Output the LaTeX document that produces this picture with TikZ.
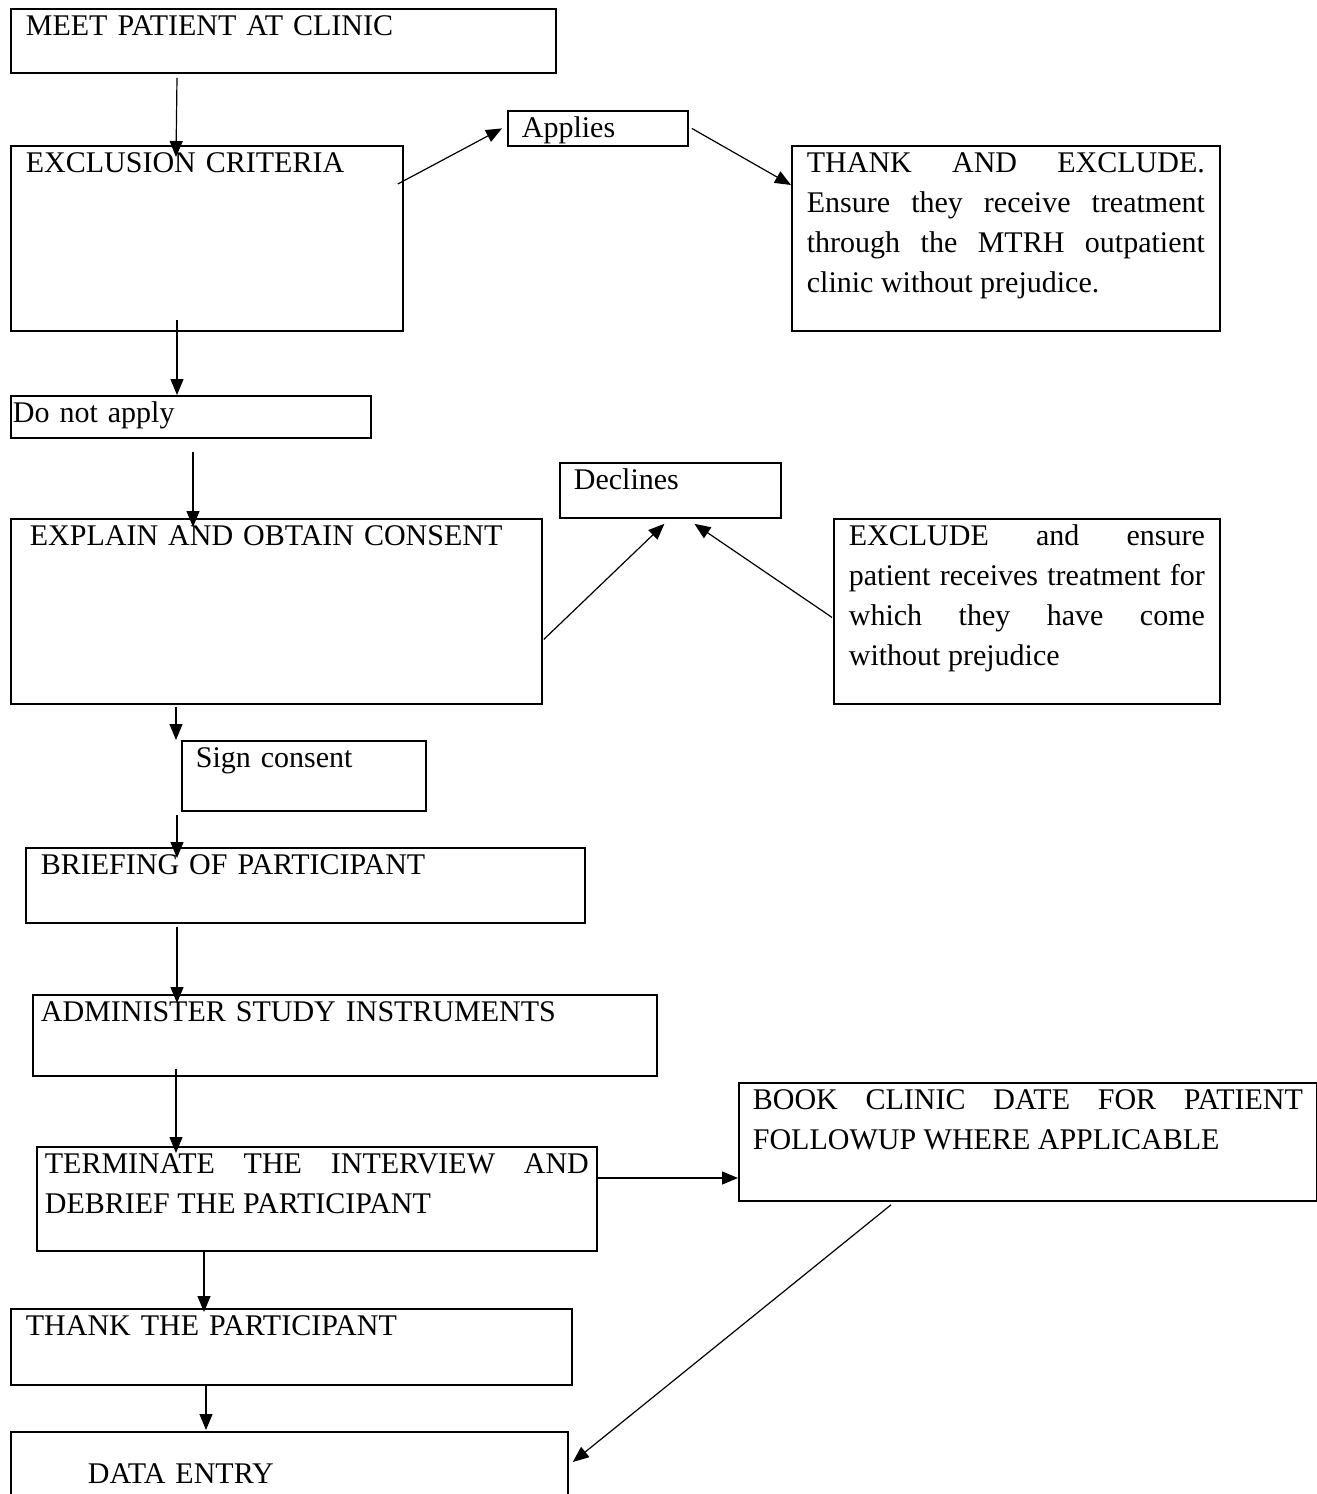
\documentclass[tikz,border=0pt]{standalone}
\usepackage{fontspec}
\setmainfont{Liberation Serif}
\usetikzlibrary{arrows.meta,calc}
\tikzset{
  box/.style={draw, line width=1.8pt, anchor=north west, inner xsep=15pt, inner ysep=0pt,
    text height=27pt, font=\fontsize{30pt}{40pt}\selectfont, align=left},
  link/.style={line width=1.2pt, -{Triangle[length=16pt,width=13pt]}}
}
\begin{document}
\begin{tikzpicture}[x=1pt,y=-1pt]
\useasboundingbox (0,0) rectangle (1317,1494);
\node[box, text width=515pt, text depth=37pt] (meet) at (10,8) {MEET PATIENT AT CLINIC};
\node[box, text width=362pt, text depth=158pt] (exclusion) at (10,145) {EXCLUSION CRITERIA};
\node[box, inner xsep=14pt, text width=152pt, text depth=8pt] (applies) at (507,110) {Applies};
\node[box, align=justify, text width=398pt, text depth=158pt] (thankex) at (791,145)
  {THANK AND EXCLUDE.\linebreak Ensure they receive treatment\linebreak through the MTRH outpatient\linebreak clinic without prejudice.};
\node[box, inner xsep=2pt, text width=356pt, text depth=15pt] (donot) at (10,395) {Do not apply};
\node[box, inner xsep=14pt, text width=193pt, text depth=28pt] (declines) at (559,462) {Declines};
\node[box, inner xsep=19pt, text width=493pt, text depth=158pt] (explain) at (10,518) {EXPLAIN AND OBTAIN CONSENT};
\node[box, align=justify, text width=356pt, text depth=158pt] (excl2) at (833,518)
  {EXCLUDE and ensure\linebreak patient receives treatment for\linebreak which they have come\linebreak without prejudice};
\node[box, inner xsep=14pt, text width=216pt, text depth=43pt] (sign) at (181,740) {Sign consent};
\node[box, text width=529pt, text depth=48pt] (briefing) at (25,847) {BRIEFING OF PARTICIPANT};
\node[box, inner xsep=8pt, text width=608pt, text depth=54pt] (admin) at (32,994) {ADMINISTER STUDY INSTRUMENTS};
\node[box, align=justify, inner xsep=14pt, text width=550pt, text depth=91pt] (book) at (738,1082)
  {BOOK CLINIC DATE FOR PATIENT\linebreak FOLLOWUP WHERE APPLICABLE};
\node[box, align=justify, inner xsep=8pt, text width=544pt, text depth=77pt] (terminate) at (36,1146)
  {TERMINATE THE INTERVIEW AND\linebreak DEBRIEF THE PARTICIPANT};
\node[box, text width=531pt, text depth=49pt] (thankp) at (10,1308) {THANK THE PARTICIPANT};
\node[box, inner xsep=77pt, text height=52pt, text width=403pt, text depth=28pt] (dataentry) at (10,1431) {DATA ENTRY};

\draw[link] ($(meet.south west)+(167,4)$) -- ($(exclusion.north west)+(166,12)$);
\draw[link] ($(exclusion.north east)+(-6,39)$) -- ($(applies.west)+(-5,0)$);
\draw[link] ($(applies.east)+(3,0)$) -- ($(thankex.north west)+(0,40)$);
\draw[link] ($(exclusion.south west)+(167,-12)$) -- ($(donot.north west)+(167,0)$);
\draw[link] ($(donot.south west)+(183,13)$) -- ($(explain.north west)+(183,9)$);
\draw[link] ($(explain.east)+(1,28)$) -- ($(declines.south)+(-6,5)$);
\draw[link] ($(excl2.west)+(-1,6)$) -- ($(declines.south)+(24,5)$);
\draw[link] ($(explain.south west)+(166,2)$) -- ($(sign.north west)+(-5,0)$);
\draw[link] ($(sign.south west)+(-4,3)$) -- ($(briefing.north west)+(152,11)$);
\draw[link] ($(briefing.south west)+(152,3)$) -- ($(admin.north west)+(145,9)$);
\draw[link] ($(admin.south west)+(144,-8)$) -- ($(terminate.north west)+(140,7)$);
\draw[link] ($(terminate.north east)+(-2,32)$) -- ($(book.north west)+(0,96)$);
\draw[link] ($(terminate.south west)+(168,-2)$) -- ($(thankp.north west)+(194,4)$);
\draw[link] ($(thankp.south west)+(196,-2)$) -- ($(dataentry.north west)+(196,-1)$);
\draw[link] ($(book.south west)+(153,3)$) -- ($(dataentry.north east)+(4,31)$);
\end{tikzpicture}
\end{document}
